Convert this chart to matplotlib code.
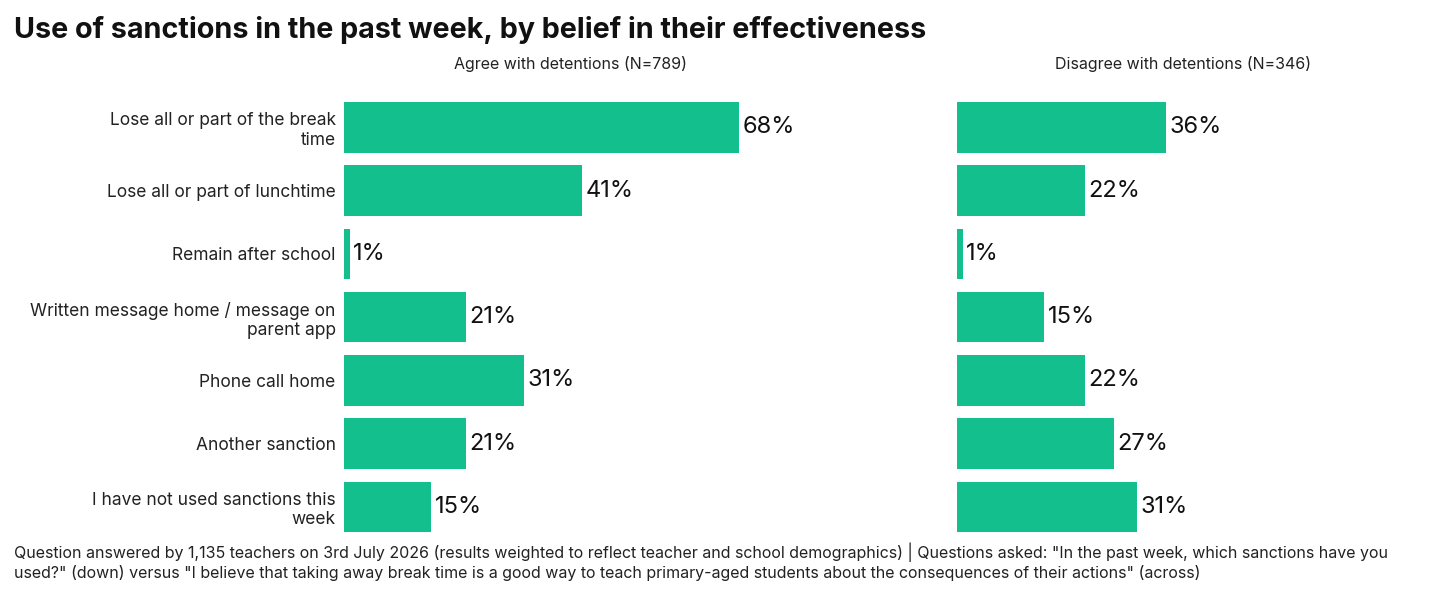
import matplotlib.pyplot as plt

plt.rcParams['font.family'] = ['Inter', 'DejaVu Sans']

categories = ["Lose all or part of the break\ntime", "Lose all or part of lunchtime",
              "Remain after school", "Written message home / message on\nparent app",
              "Phone call home", "Another sanction", "I have not used sanctions this\nweek"]
agree = [68, 41, 1, 21, 31, 21, 15]
disagree = [36, 22, 1, 15, 22, 27, 31]
panel_titles = ["Agree with detentions (N=789)", "Disagree with detentions (N=346)"]

color = '#14BF8E'
fig = plt.figure(figsize=(14.4, 6), dpi=100)
ax1 = fig.add_axes([344/1440, 0.1025, 581/1440, 0.738])
ax2 = fig.add_axes([957/1440, 0.1025, 482/1440, 0.738])

# x position of each panel title (axes fraction)
title_x = [(571 - 344) / 581, (1183 - 957) / 482]

for ax, vals, t, tx, xmax in [(ax1, agree, panel_titles[0], title_x[0], 100),
                              (ax2, disagree, panel_titles[1], title_x[1], 83)]:
    y = range(len(categories))
    ax.barh(y, vals, height=0.8, color=color)
    for i, v in enumerate(vals):
        ax.text(v + 0.6, i, f"{v}%", va='center', ha='left', fontsize=17, color='#111111')
    ax.set_xlim(0, xmax)
    ax.set_ylim(len(categories) - 0.5, -0.5)
    ax.set_xticks([])
    for s in ax.spines.values():
        s.set_visible(False)
    ax.set_title(t, fontsize=11.5, color='#222222', pad=19, x=tx)

ax1.set_yticks(range(len(categories)))
ax1.set_yticklabels(categories, fontsize=12.5, color='#222222', ha='right')
ax1.tick_params(axis='y', length=0, pad=6)
ax2.set_yticks([])

fig.text(14/1440, 1 - 30/600, "Use of sanctions in the past week, by belief in their effectiveness",
         fontsize=20.7, fontweight='bold', va='center', ha='left', color='#111111')
fig.text(14/1440, 1 - 562/600,
         "Question answered by 1,135 teachers on 3rd July 2026 (results weighted to reflect teacher and school demographics) | Questions asked: \"In the past week, which sanctions have you\n"
         "used?\" (down) versus \"I believe that taking away break time is a good way to teach primary-aged students about the consequences of their actions\" (across)",
         fontsize=11.5, va='center', ha='left', color='#222222', linespacing=1.2)

fig.savefig('out.png', dpi=100)
